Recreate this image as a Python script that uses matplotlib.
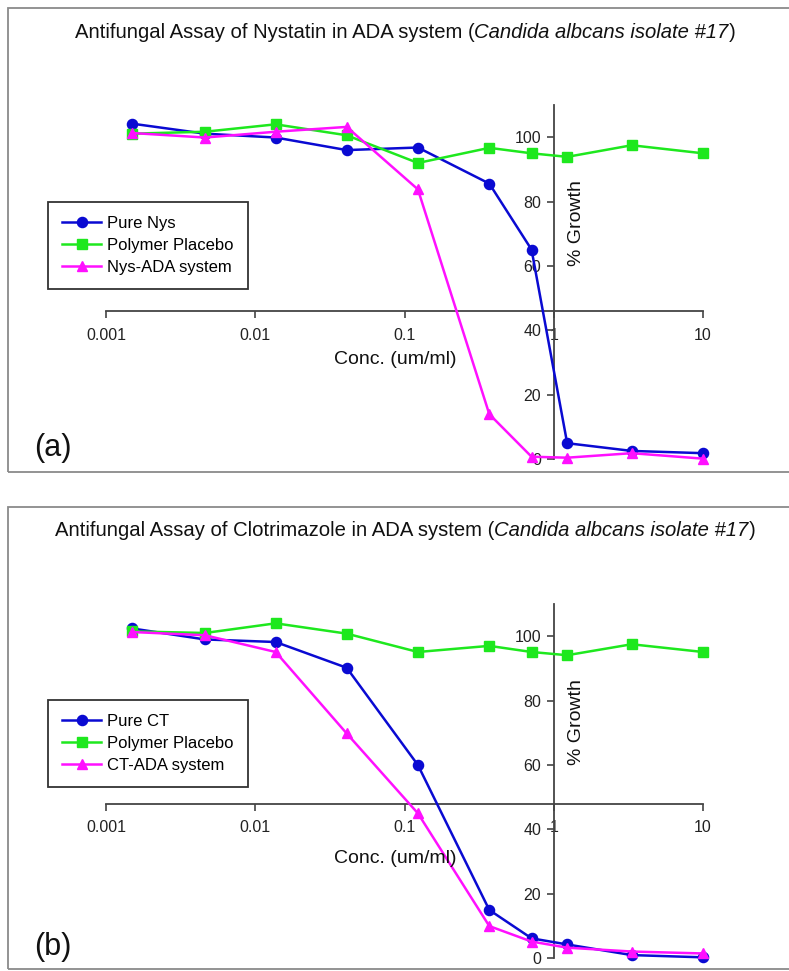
import matplotlib
matplotlib.use('Agg')
import matplotlib.pyplot as plt
from matplotlib.patches import Rectangle
from matplotlib.ticker import NullLocator

plt.rcParams['font.family'] = ['Liberation Sans', 'DejaVu Sans']

# concentrations (um/ml), shared by both assays
conc = [0.0015, 0.0046, 0.0137, 0.041, 0.123, 0.37, 0.71, 1.23, 3.33, 10]

# (a) nystatin
nys_pure = [104.2, 101.1, 99.9, 96.0, 96.8, 85.6, 65.1, 5.0, 2.6, 1.9]
nys_placebo = [101.1, 101.7, 104.0, 100.6, 92.0, 96.7, 95.0, 93.9, 97.5, 95.0]
nys_ada = [101.3, 99.9, 101.7, 103.2, 83.8, 14.0, 0.8, 0.5, 1.9, 0.2]

# (b) clotrimazole
ct_pure = [102.4, 99.0, 98.2, 90.2, 60.0, 15.0, 6.2, 4.3, 1.0, 0.3]
ct_placebo = [101.5, 101.0, 104.0, 100.8, 95.1, 97.0, 95.1, 94.1, 97.5, 95.1]
ct_ada = [101.3, 100.3, 95.1, 69.8, 45.0, 10.0, 5.2, 3.3, 2.1, 1.5]

xticks = [0.001, 0.01, 0.1, 1, 10]
xtick_labels = ['0.001', '0.01', '0.1', '1', '10']
yticks = [0, 20, 40, 60, 80, 100]

BLUE = '#0a0ad2'
GREEN = '#1ee81e'
MAGENTA = '#ff10ff'
AXIS = '#444444'

W, H = 789, 971
fig = plt.figure(figsize=(W / 100, H / 100), dpi=100)


def fx(px):
    return px / W


def fy(py):
    return 1 - py / H


def mixed_title(cy, parts, size=14.6):
    r = fig.canvas.get_renderer()
    texts = [fig.text(0, fy(cy), s, style=st, fontsize=size, va='center', ha='left', color='#111111')
             for s, st in parts]
    widths = [t.get_window_extent(r).width for t in texts]
    x = 405 - sum(widths) / 2
    for t, w in zip(texts, widths):
        t.set_x(fx(x))
        x += w


def panel(top_px, bottom_px, pure, placebo, ada, names, cross_y, drug, tag, leg_top):
    # outer frame of the panel
    fig.patches.append(Rectangle((fx(8), fy(bottom_px)), fx(800 - 8), (bottom_px - top_px) / H,
                                 transform=fig.transFigure, fill=False, ec='#8a8a8a', lw=1.3))

    ax_top = top_px + 97
    ax_bot = top_px + 451.3
    ax = fig.add_axes([fx(106), fy(ax_bot), fx(703 - 106), (ax_bot - ax_top) / H])
    ax.set_facecolor('none')

    ax.plot(conc, pure, color=BLUE, marker='o', ms=7.3, lw=1.8, label=names[0], clip_on=False, zorder=3)
    ax.plot(conc, placebo, color=GREEN, marker='s', ms=6.8, lw=1.8, label=names[1], clip_on=False, zorder=3)
    ax.plot(conc, ada, color=MAGENTA, marker='^', ms=7.3, lw=1.8, label=names[2], clip_on=False, zorder=3)

    ax.set_xscale('log')
    ax.set_xlim(0.001, 10)
    ax.set_ylim(0, 110)
    ax.set_xticks(xticks, xtick_labels)
    ax.xaxis.set_minor_locator(NullLocator())
    ax.set_yticks(yticks)

    for s in ('top', 'right'):
        ax.spines[s].set_visible(False)
    ax.spines['left'].set_position(('data', 1))
    ax.spines['bottom'].set_position(('data', cross_y))
    for s in ('left', 'bottom'):
        ax.spines[s].set_color(AXIS)
        ax.spines[s].set_linewidth(1.3)
    ax.tick_params(axis='both', direction='out', length=5, width=1.2, color=AXIS,
                   labelsize=11.5, labelcolor='#222222')
    ax.tick_params(axis='x', pad=7)
    ax.tick_params(axis='y', pad=4)

    ax.text(1.41, 73.5, '% Growth', rotation=90, ha='center', va='center', fontsize=14, color='#111111')
    ax.text(0.0863, 31, 'Conc. (um/ml)', ha='center', va='center', fontsize=14, color='#111111')

    leg = ax.legend(loc='upper left', bbox_to_anchor=(fx(48.3), fy(leg_top)), bbox_transform=fig.transFigure,
                    borderaxespad=0, fancybox=False, framealpha=1, edgecolor='#333333', fontsize=12,
                    handlelength=2.3, handletextpad=0.4, labelspacing=0.42, borderpad=0.85)
    leg.get_frame().set_linewidth(1.3)

    mixed_title(top_px + 24, [('Antifungal Assay of ' + drug + ' in ADA system (', 'normal'),
                              ('Candida albcans isolate #17', 'italic'), (')', 'normal')])
    fig.text(fx(34), fy(top_px + 440), tag, fontsize=22, ha='left', va='center', color='#111111')
    return ax


panel(8, 472, nys_pure, nys_placebo, nys_ada, ['Pure Nys', 'Polymer Placebo', 'Nys-ADA system'],
      46, 'Nystatin', '(a)', 201.7)
panel(507, 969, ct_pure, ct_placebo, ct_ada, ['Pure CT', 'Polymer Placebo', 'CT-ADA system'],
      48, 'Clotrimazole', '(b)', 700)

fig.savefig('out.png', dpi=100)
